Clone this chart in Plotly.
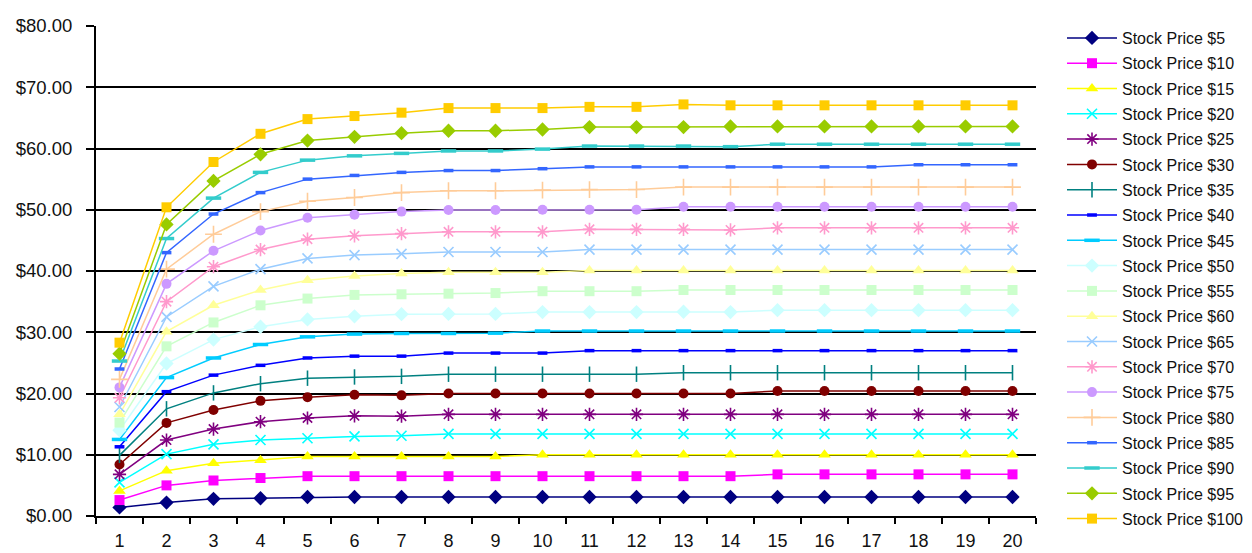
import plotly.graph_objects as go

# Holding period (years) on the category axis
periods = [str(i) for i in range(1, 21)]

# Option values for each underlying stock price
stock_5 = [1.4, 2.2, 2.8, 2.9, 3.1, 3.1, 3.1, 3.1, 3.1, 3.1, 3.1, 3.1, 3.1, 3.1, 3.1, 3.1, 3.1, 3.1, 3.1, 3.1]
stock_10 = [2.6, 5.0, 5.8, 6.2, 6.5, 6.5, 6.5, 6.5, 6.5, 6.5, 6.5, 6.5, 6.5, 6.5, 6.8, 6.8, 6.8, 6.8, 6.8, 6.8]
stock_15 = [4.1, 7.4, 8.6, 9.1, 9.7, 9.7, 9.7, 9.7, 9.7, 10.0, 10.0, 10.0, 10.0, 10.0, 10.0, 10.0, 10.0, 10.0, 10.0, 10.0]
stock_20 = [5.5, 10.1, 11.7, 12.4, 12.7, 13.0, 13.1, 13.4, 13.4, 13.4, 13.4, 13.4, 13.4, 13.4, 13.4, 13.4, 13.4, 13.4, 13.4, 13.4]
stock_25 = [6.8, 12.4, 14.2, 15.4, 16.0, 16.35, 16.3, 16.6, 16.6, 16.6, 16.6, 16.6, 16.6, 16.6, 16.6, 16.6, 16.6, 16.6, 16.6, 16.6]
stock_30 = [8.4, 15.2, 17.3, 18.8, 19.4, 19.8, 19.7, 20.0, 20.0, 20.0, 20.0, 20.0, 20.0, 20.0, 20.4, 20.4, 20.4, 20.4, 20.4, 20.4]
stock_35 = [9.9, 17.5, 20.1, 21.6, 22.5, 22.7, 22.8, 23.15, 23.15, 23.15, 23.15, 23.15, 23.4, 23.4, 23.4, 23.4, 23.4, 23.4, 23.4, 23.4]
stock_40 = [11.3, 20.3, 23.0, 24.6, 25.8, 26.1, 26.1, 26.6, 26.6, 26.6, 27.0, 27.0, 27.0, 27.0, 27.0, 27.0, 27.0, 27.0, 27.0, 27.0]
stock_45 = [12.5, 22.6, 25.8, 28.0, 29.25, 29.7, 29.8, 29.8, 29.85, 30.2, 30.2, 30.2, 30.2, 30.2, 30.2, 30.2, 30.2, 30.2, 30.2, 30.2]
stock_50 = [14.0, 24.9, 28.8, 30.9, 32.1, 32.6, 32.95, 33.0, 33.0, 33.3, 33.3, 33.3, 33.35, 33.3, 33.6, 33.6, 33.6, 33.6, 33.6, 33.6]
stock_55 = [15.25, 27.7, 31.6, 34.4, 35.5, 36.1, 36.2, 36.3, 36.4, 36.7, 36.7, 36.7, 36.9, 36.9, 36.9, 36.9, 36.9, 36.9, 36.9, 36.9]
stock_60 = [16.6, 30.1, 34.4, 36.9, 38.5, 39.2, 39.6, 39.8, 39.8, 39.8, 40.1, 40.1, 40.1, 40.1, 40.1, 40.1, 40.1, 40.1, 40.1, 40.1]
stock_65 = [17.8, 32.5, 37.5, 40.3, 42.05, 42.6, 42.8, 43.1, 43.1, 43.1, 43.5, 43.5, 43.5, 43.5, 43.5, 43.5, 43.5, 43.5, 43.5, 43.5]
stock_70 = [19.3, 35.0, 40.7, 43.5, 45.2, 45.75, 46.1, 46.4, 46.4, 46.4, 46.8, 46.8, 46.8, 46.7, 47.05, 47.05, 47.05, 47.05, 47.05, 47.05]
stock_75 = [21.0, 37.9, 43.3, 46.6, 48.7, 49.2, 49.7, 49.95, 49.95, 50.0, 50.0, 50.0, 50.5, 50.5, 50.5, 50.5, 50.5, 50.5, 50.5, 50.5]
stock_80 = [22.3, 40.3, 46.0, 49.7, 51.4, 52.0, 52.8, 53.1, 53.1, 53.2, 53.3, 53.3, 53.7, 53.7, 53.7, 53.7, 53.7, 53.7, 53.7, 53.7]
stock_85 = [24.0, 43.0, 49.3, 52.8, 55.0, 55.6, 56.1, 56.4, 56.4, 56.7, 57.0, 57.0, 57.0, 57.0, 57.0, 57.0, 57.0, 57.35, 57.35, 57.35]
stock_90 = [25.3, 45.3, 51.9, 56.1, 58.1, 58.8, 59.2, 59.6, 59.6, 59.9, 60.4, 60.4, 60.4, 60.3, 60.7, 60.7, 60.7, 60.7, 60.7, 60.7]
stock_95 = [26.5, 47.6, 54.7, 59.05, 61.3, 61.9, 62.5, 62.9, 62.9, 63.1, 63.5, 63.5, 63.5, 63.6, 63.6, 63.6, 63.6, 63.6, 63.6, 63.6]
stock_100 = [28.3, 50.4, 57.8, 62.4, 64.8, 65.3, 65.85, 66.6, 66.6, 66.6, 66.8, 66.8, 67.2, 67.05, 67.05, 67.05, 67.05, 67.05, 67.05, 67.05]

series_names = [
    "Stock Price $5", "Stock Price $10", "Stock Price $15", "Stock Price $20",
    "Stock Price $25", "Stock Price $30", "Stock Price $35", "Stock Price $40",
    "Stock Price $45", "Stock Price $50", "Stock Price $55", "Stock Price $60",
    "Stock Price $65", "Stock Price $70", "Stock Price $75", "Stock Price $80",
    "Stock Price $85", "Stock Price $90", "Stock Price $95", "Stock Price $100",
]
series_values = [
    stock_5, stock_10, stock_15, stock_20, stock_25, stock_30, stock_35,
    stock_40, stock_45, stock_50, stock_55, stock_60, stock_65, stock_70,
    stock_75, stock_80, stock_85, stock_90, stock_95, stock_100,
]

# (line colour, marker symbol, marker size, open-symbol stroke width)
styles = [
    ("#000080", "diamond", 11, 0),
    ("#FF00FF", "square", 10, 0),
    ("#FFFF00", "triangle-up", 11, 0),
    ("#00FFFF", "x-thin-open", 10, 1.6),
    ("#800080", "asterisk-open", 11, 1.6),
    ("#800000", "circle", 10, 0),
    ("#008080", "line-ns-open", 11, 1.6),
    ("#0000FF", "line-ew-open", 7, 3.5),
    ("#00CCFF", "line-ew-open", 11, 3.5),
    ("#CCFFFF", "diamond", 11, 0),
    ("#CCFFCC", "square", 10, 0),
    ("#FFFF99", "triangle-up", 11, 0),
    ("#99CCFF", "x-thin-open", 10, 1.6),
    ("#FF99CC", "asterisk-open", 11, 1.6),
    ("#CC99FF", "circle", 10, 0),
    ("#FFCC99", "cross-thin-open", 12, 1.6),
    ("#3366FF", "line-ew-open", 7, 3.5),
    ("#33CCCC", "line-ew-open", 11, 3.5),
    ("#99CC00", "diamond", 11, 0),
    ("#FFCC00", "square", 10, 0),
]

fig = go.Figure()
for name, values, (color, symbol, size, stroke) in zip(series_names, series_values, styles):
    marker = dict(symbol=symbol, size=size, color=color)
    if stroke:
        marker["line"] = dict(width=stroke, color=color)
    else:
        marker["line"] = dict(width=0)
    fig.add_trace(go.Scatter(
        x=periods, y=values, name=name, legendgroup=name,
        mode="lines+markers",
        line=dict(color=color, width=1.5),
        marker=marker,
    ))

font_family = "Liberation Sans, Arial, sans-serif"

fig.update_layout(
    width=1252, height=553,
    margin=dict(l=96, r=216, t=26, b=37),
    paper_bgcolor="white", plot_bgcolor="white",
    font=dict(family=font_family, color="#111111"),
    showlegend=True,
    legend=dict(
        xref="container", yref="container",
        x=1062 / 1252, y=1 - 21 / 553,
        xanchor="left", yanchor="top",
        maxheight=548,
        font=dict(size=16, family=font_family, color="#111111"),
        itemwidth=50,
        tracegroupgap=1.5,
        bgcolor="rgba(0,0,0,0)",
    ),
    xaxis=dict(
        type="category",
        tickson="boundaries",
        ticks="outside", ticklen=6, tickwidth=1.5, tickcolor="black",
        showline=True, linecolor="black", linewidth=2,
        showgrid=False,
        tickfont=dict(size=18),
        ticklabelstandoff=7,
        automargin=False,
        range=[-0.5, 19.5],
    ),
    yaxis=dict(
        range=[0, 80], dtick=10,
        tickprefix="$", tickformat=".2f",
        ticks="outside", ticklen=8, tickwidth=1.5, tickcolor="black",
        showline=True, linecolor="black", linewidth=2,
        showgrid=True, gridcolor="black", gridwidth=1.5,
        zeroline=False,
        tickfont=dict(size=18.5),
        ticklabelstandoff=10,
        automargin=False,
    ),
)

fig.write_html("out.html")
